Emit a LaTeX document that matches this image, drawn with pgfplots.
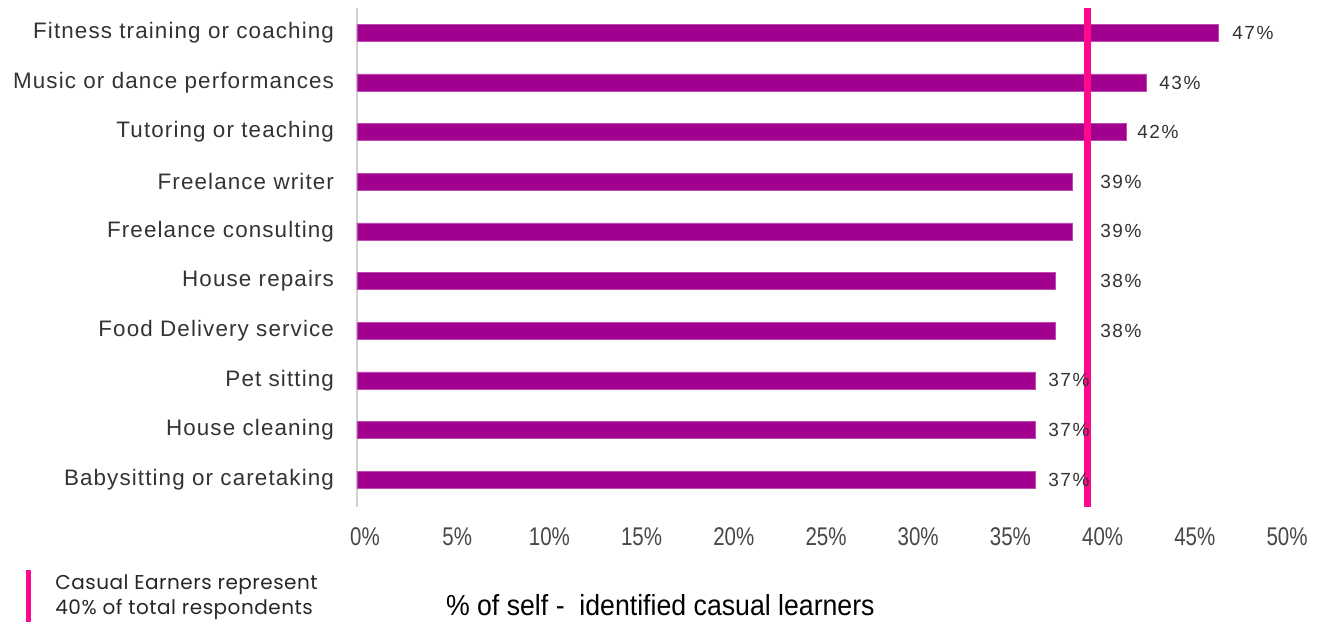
\documentclass[border=0pt]{standalone}
\usepackage{fontspec}
\usepackage{pgfplots}
\pgfplotsset{compat=1.18}
\usepackage{pgfplotstable}
\setmainfont{Liberation Sans}
\newfontfamily\catfont[LetterSpace=5]{Liberation Sans}
\newfontfamily\valfont[LetterSpace=8]{Liberation Sans}
\newfontfamily\tickfont[FakeStretch=0.8]{Liberation Sans}
\newfontfamily\xlabfont[FakeStretch=0.92]{Liberation Sans}
\newfontfamily\legfont[LetterSpace=2.5]{Poppins}
\definecolor{barpurple}{HTML}{A2008E}
\definecolor{refpink}{HTML}{FF0A8C}
\definecolor{txt}{HTML}{333333}

\pgfplotstableread{
y  x
0  46.7
1  42.8
2  41.7
3  38.8
4  38.8
5  37.9
6  37.9
7  36.8
8  36.8
9  36.8
}\bars

\pgfplotstableread{
y  x      lab
0  47.45  47\%
1  43.49  43\%
2  42.30  42\%
3  40.29  39\%
4  40.29  39\%
5  40.29  38\%
6  40.29  38\%
7  37.47  37\%
8  37.47  37\%
9  37.47  37\%
}\labs

\begin{document}
\begin{tikzpicture}
\begin{axis}[
  name=ax,
  scale only axis,
  width=461pt, height=249.5pt,
  xmin=0, xmax=50,
  ymin=-0.5, ymax=9.55,
  y dir=reverse,
  axis lines*=left,
  axis line style={-},
  x axis line style={draw=none},
  y axis line style={draw=black!18, line width=1pt},
  major tick length=0pt,
  xtick={0,5,...,50},
  xticklabels={0\%,5\%,10\%,15\%,20\%,25\%,30\%,35\%,40\%,45\%,50\%},
  xticklabel style={font=\tickfont\fontsize{12.8}{14}\selectfont, text=txt!90, anchor=north, yshift=-7pt, xshift=4pt},
  ytick={0,...,9},
  yticklabels={Fitness training or coaching, Music or dance performances, Tutoring or teaching, Freelance writer, Freelance consulting, House repairs, Food Delivery service, Pet sitting, House cleaning, Babysitting or caretaking},
  yticklabel style={font=\catfont\fontsize{11.2}{13}\selectfont, text=txt, xshift=-8pt},
  xlabel={\% of self -\ \ identified casual learners},
  xlabel style={font=\xlabfont\fontsize{14.5}{16}\selectfont, text=black, at={(axis description cs:0.329,-0.196)}, anchor=center},
  clip=false,
]
\addplot[xbar, bar width=8.5pt, bar shift=0pt, fill=barpurple, draw=barpurple!70!white, line width=0.4pt] table[x=x, y=y] {\bars};
\addplot[only marks, mark=none, nodes near coords, point meta=explicit symbolic,
  nodes near coords style={anchor=west, inner sep=0pt, font=\valfont\fontsize{9.5}{11}\selectfont, text=txt}]
  table[x=x, y=y, meta=lab] {\labs};
\addplot[refpink, line width=3.5pt] coordinates {(39.6,-0.5) (39.6,9.55)};
\end{axis}
\fill[refpink] ([xshift=-165.5pt, yshift=-31.5pt]ax.south west) rectangle ([xshift=-163pt, yshift=-57.5pt]ax.south west);
\node[anchor=west, align=left, inner sep=0pt, font=\legfont\fontsize{10}{12.5}\selectfont, text=black!85]
  at ([xshift=-151pt, yshift=-45.25pt]ax.south west) {Casual Earners represent\\40\% of total respondents};
\pgfresetboundingbox
\path ([xshift=-178.5pt,yshift=-58pt]ax.south west) rectangle ([xshift=20.5pt,yshift=4pt]ax.north east);
\end{tikzpicture}
\end{document}
